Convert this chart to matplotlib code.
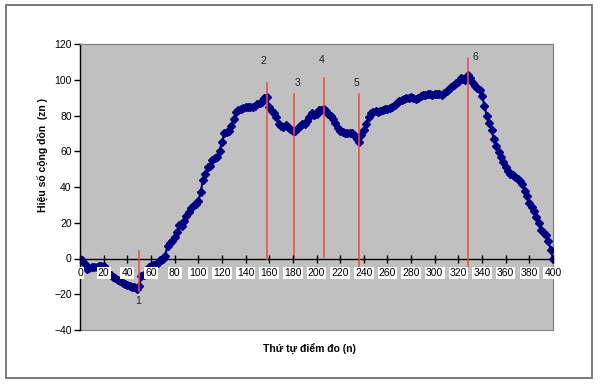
import matplotlib
matplotlib.use("Agg")
import matplotlib.pyplot as plt
from matplotlib.patches import Rectangle
import numpy as np

plt.rcParams['font.family'] = ['Liberation Sans', 'DejaVu Sans']

# data: cumulative difference every 2 measuring points
n_values = list(range(0, 401, 2))
zn_values = [
    0, -1, -3, -5.8, -5.5, -5, -4.8, -4.5, -4.2, -4,
    -4.2, -7, -8.5, -9.5, -10.5, -11, -12, -12.7, -13.5, -14.5,
    -15, -15.2, -15.8, -16, -17, -15.5, -10, -9, -8, -4.7,
    -4, -3.5, -3, -2.5, -1, 0, 1.5, 7, 8.5, 10,
    12, 15, 19, 18, 21, 24, 26, 28, 30, 30.5,
    32, 37, 44, 47, 51, 52, 55, 56.5, 57, 60,
    65, 70, 71, 71.5, 74, 78, 82, 83, 83.5, 84,
    84.5, 85, 85, 84.5, 85.5, 86.5, 87, 87.5, 90, 90.5,
    85, 82.5, 81.5, 79, 75, 74, 73.5, 74.5, 73.5, 72.5,
    71.5, 71.5, 73, 74, 75, 75.5, 77, 79, 81.5, 80.5,
    81, 83, 83, 83.4, 82.5, 81, 79.5, 78, 76, 73,
    71.5, 70.5, 70.2, 70.3, 70, 70, 69, 67, 65, 69,
    72, 75, 79, 81.5, 82, 82.5, 82, 82.5, 83, 83.5,
    83.7, 84, 85, 86, 87, 88, 88.5, 89, 89.7, 90,
    90.5, 90, 89.5, 90, 91, 91.2, 91.5, 92, 92, 91.7,
    92, 92.3, 92, 91.7, 92.5, 93.5, 95, 96, 97, 98,
    99, 101, 100.5, 100, 102.5, 101, 98, 96.5, 95.5, 94,
    91, 85.5, 80, 76, 72, 67, 63, 59.5, 57, 54,
    51, 49, 47.5, 46.5, 45.5, 44.5, 43.5, 41.5, 38, 35,
    31, 29, 26.5, 23, 20, 16, 14, 13.4, 10, 5,
    0,
]

# marker lines and their labels
mark_labels = ['1', '2', '3', '4', '5', '6']
mark_x = [50, 158, 181, 206, 236, 328]
mark_top = [4, 98, 92, 101, 92, 112]
mark_bottom = [-18, 0, 0, 1, -5, -5]
label_x = [49.5, 155, 184, 204, 234, 334]
label_y = [-24, 110.5, 98, 110.8, 98, 113]

x_ticks = list(range(0, 401, 20))
y_ticks = list(range(-40, 121, 20))

fig = plt.figure(figsize=(6.02, 3.84), dpi=100)
fig.patch.set_facecolor('white')
ax = fig.add_axes([80/602, 1-330/384, (553-80)/602, (330-44)/384])
ax.set_facecolor('#C0C0C0')

ax.plot(n_values, zn_values, color='#000080', lw=1.6, marker='D',
        markersize=3.6, markerfacecolor='#000080', markeredgecolor='#000080',
        zorder=3)

for x, t, b in zip(mark_x, mark_top, mark_bottom):
    ax.plot([x, x], [b, t], color='#F04848', lw=1.1, zorder=4)
for s, x, y in zip(mark_labels, label_x, label_y):
    ax.text(x, y, s, fontsize=7.5, ha='center', va='center', color='#222222')

ax.set_xlim(0, 400)
ax.set_ylim(-40, 120)
ax.set_xticks(x_ticks)
ax.set_yticks(y_ticks)

ax.spines['bottom'].set_position(('data', 0))
ax.spines['bottom'].set_color('black')
ax.spines['bottom'].set_linewidth(1.0)
ax.spines['bottom'].set_zorder(2)
ax.spines['left'].set_color('black')
ax.spines['left'].set_linewidth(1.0)
for s in ['top', 'right']:
    ax.spines[s].set_color('#808080')
    ax.spines[s].set_linewidth(0.8)
ax.add_patch(Rectangle((0, 0), 1, 1, transform=ax.transAxes, fill=False,
                       edgecolor='#808080', lw=0.8, zorder=1, clip_on=False))

ax.tick_params(axis='x', direction='inout', length=6, width=1, labelsize=7.5, pad=4)
ax.tick_params(axis='y', direction='out', length=4, width=1, labelsize=7.5, pad=2)
for lab in ax.get_xticklabels():
    lab.set_bbox(dict(facecolor='white', edgecolor='none', pad=0.8))
ax.xaxis.set_zorder(6)

fig.text(42/602, 1-155/384, 'Hiệu số cộng dồn  (zn )', rotation=90,
         fontsize=7.5, fontweight='bold', ha='center', va='center')
fig.text(309/602, 1-349/384, 'Thứ tự điểm đo (n)', fontsize=7.5,
         fontweight='bold', ha='center', va='center')

fig.add_artist(Rectangle((6/602, 1-378/384), (592-6)/602, (378-5)/384,
                         transform=fig.transFigure, fill=False,
                         edgecolor='#707070', lw=1.3))

fig.savefig('out.png', dpi=100)
